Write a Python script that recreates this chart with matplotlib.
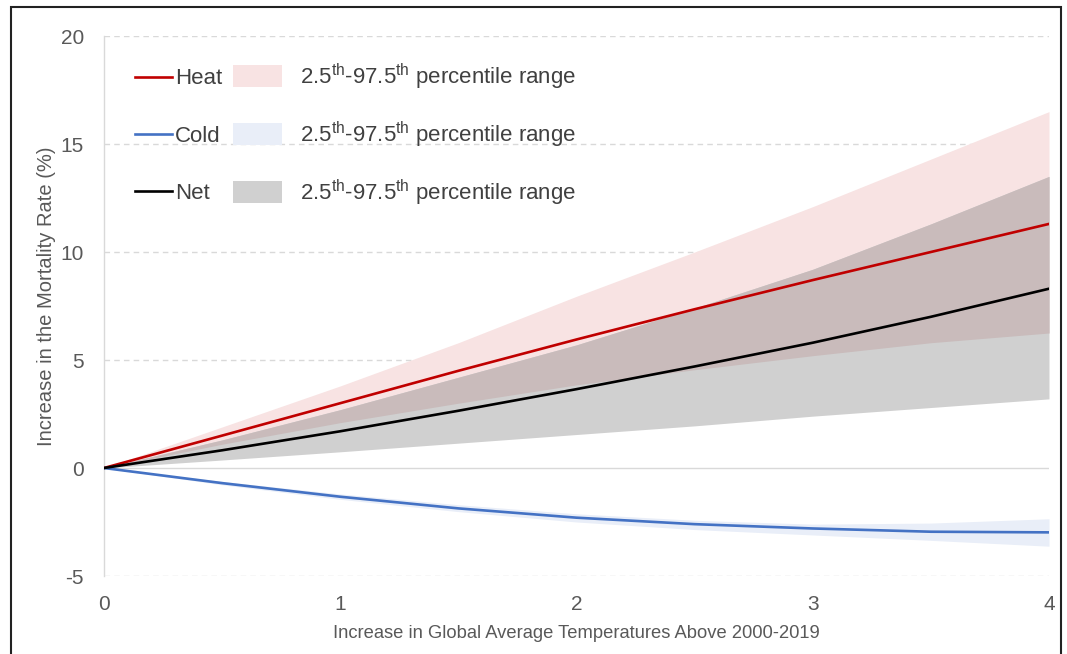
import matplotlib
matplotlib.use("Agg")
import matplotlib.pyplot as plt
import numpy as np
from matplotlib.lines import Line2D
from matplotlib.patches import Patch, Rectangle

plt.rcParams['font.family'] = ['Liberation Sans', 'DejaVu Sans']
plt.rcParams['mathtext.fontset'] = 'custom'
plt.rcParams['mathtext.rm'] = 'Liberation Sans'
plt.rcParams['mathtext.it'] = 'Liberation Sans'

# ---- data ----
temp = [0, 0.5, 1, 1.5, 2, 2.5, 3, 3.5, 4]
heat = [0, 1.5, 3.0, 4.5, 5.95, 7.35, 8.7, 10.0, 11.3]
heat_hi = [0, 1.9, 3.8, 5.8, 7.95, 10.0, 12.1, 14.3, 16.5]
heat_lo = [0, 1.1, 2.1, 3.0, 3.85, 4.55, 5.2, 5.8, 6.25]
cold = [0, -0.7, -1.33, -1.87, -2.3, -2.6, -2.8, -2.95, -2.98]
cold_hi = [0, -0.62, -1.2, -1.7, -2.12, -2.42, -2.6, -2.55, -2.35]
cold_lo = [0, -0.78, -1.45, -2.02, -2.5, -2.85, -3.1, -3.35, -3.62]
net = [0, 0.82, 1.7, 2.65, 3.65, 4.7, 5.8, 7.0, 8.3]
net_hi = [0, 1.3, 2.7, 4.2, 5.7, 7.4, 9.2, 11.3, 13.5]
net_lo = [0, 0.37, 0.75, 1.15, 1.55, 1.95, 2.4, 2.8, 3.2]
series_names = ["Heat", "Cold", "Net"]
range_label = r"2.5$^{\mathrm{th}}$-97.5$^{\mathrm{th}}$ percentile range"
xticks = [0, 1, 2, 3, 4]
yticks = [-5, 0, 5, 10, 15, 20]

RED = "#c00000"
BLUE = "#4472c4"
BLACK = "#000000"
PINK = "#f8e3e3"
LBLUE = "#e9eef8"
GRAY = "#d0d0d0"
OVER = "#c9bbbb"
TXT = "#595959"

fig = plt.figure(figsize=(10.67, 6.54), dpi=100)
ax = fig.add_axes([104/1067, 1-576/654, (1049-104)/1067, (576-36)/654])

x = np.array(temp)
hh, hl = np.array(heat_hi), np.array(heat_lo)
nh, nl = np.array(net_hi), np.array(net_lo)

ax.fill_between(x, heat_lo, heat_hi, color=PINK, lw=0, zorder=1)
ax.fill_between(x, net_lo, net_hi, color=GRAY, lw=0, zorder=1.1)
ax.fill_between(x, np.maximum(hl, nl), np.minimum(hh, nh), color=OVER, lw=0, zorder=1.2)
ax.fill_between(x, cold_lo, cold_hi, color=LBLUE, lw=0, zorder=1)

ax.plot(x, heat, color=RED, lw=1.9, zorder=3)
ax.plot(x, cold, color=BLUE, lw=1.9, zorder=3)
ax.plot(x, net, color=BLACK, lw=1.9, zorder=3)

ax.set_xlim(0, 4)
ax.set_ylim(-5, 20)
ax.set_xticks(xticks)
ax.set_yticks(yticks)
ax.set_yticklabels([str(v) for v in yticks])
ax.tick_params(length=0, labelsize=15, colors=TXT, pad=14.5)
ax.tick_params(axis='x', pad=13.5)
for s in ['top', 'right', 'bottom']:
    ax.spines[s].set_visible(False)
ax.spines['left'].set_color('#d9d9d9')
ax.spines['left'].set_linewidth(1.0)
for v in yticks:
    if v == 0:
        ax.axhline(v, color='#d9d9d9', lw=1.0, zorder=0.5)
    else:
        ax.axhline(v, color='#d9d9d9', lw=1.0, ls=(0, (4, 3)), zorder=0.5)

ax.set_xlabel("Increase in Global Average Temperatures Above 2000-2019",
              fontsize=13.2, color=TXT, labelpad=8)
ax.set_ylabel("Increase in the Mortality Rate (%)", fontsize=14.5, color=TXT, labelpad=3.5)
ax.yaxis.label.set_y(0.518)

# legends
fs = 16
line_handles = [Line2D([], [], color=c, lw=1.9) for c in (RED, BLUE, BLACK)]
leg1 = ax.legend(line_handles, series_names, loc='upper left',
                 bbox_to_anchor=(135/1067, 1-68.5/654), bbox_transform=fig.transFigure,
                 frameon=False, fontsize=fs, handlelength=1.67, handletextpad=0.12,
                 labelspacing=1.63, borderpad=0, borderaxespad=0, labelcolor='#404040')
ax.add_artist(leg1)
patch_handles = [Patch(facecolor=c, edgecolor='none') for c in (PINK, LBLUE, GRAY)]
leg2 = ax.legend(patch_handles, [range_label]*3, loc='upper left',
                 bbox_to_anchor=(233/1067, 1-61.5/654), bbox_transform=fig.transFigure,
                 frameon=False, fontsize=fs, handlelength=2.2, handleheight=1.15,
                 handletextpad=0.8, labelspacing=1.25, borderpad=0, borderaxespad=0,
                 labelcolor='#404040')

# outer frame
fig.patches.append(Rectangle((11/1067, -0.02), (1061-11)/1067, 1-7/654+0.02,
                             transform=fig.transFigure, fill=False,
                             edgecolor='#222222', lw=1.5))

fig.savefig("out.png", dpi=100)
